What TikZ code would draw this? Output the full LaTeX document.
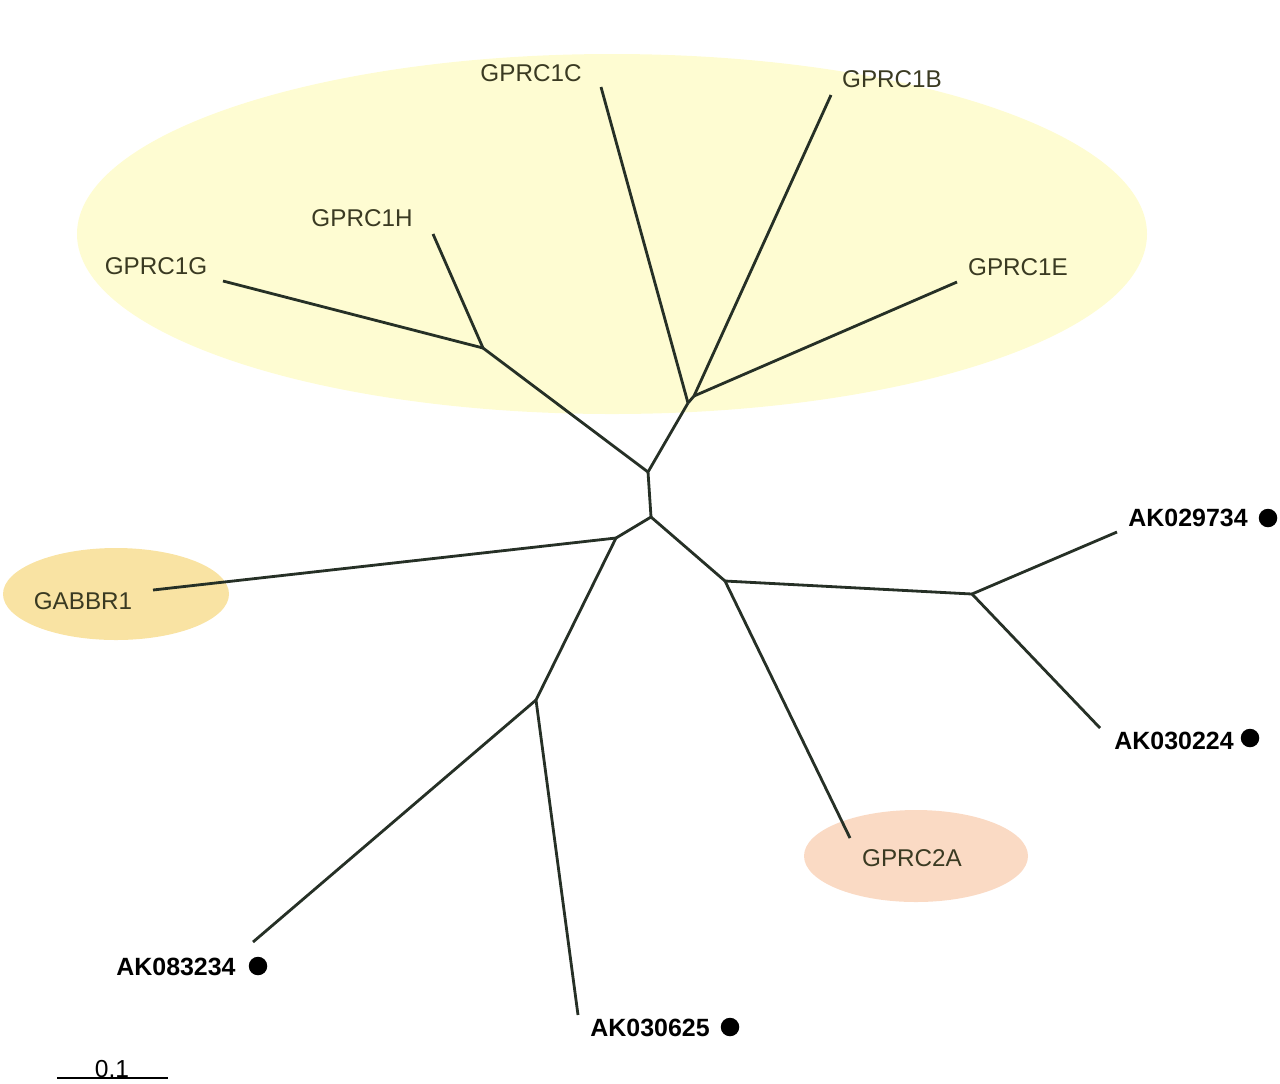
\documentclass[tikz,border=0pt]{standalone}
\usepackage{fontspec}
\setmainfont{Liberation Sans}
\usetikzlibrary{shapes.geometric}

\definecolor{groupyellow}{HTML}{FEFCD2}
\definecolor{gabayellow}{HTML}{F9E3A3}
\definecolor{gprcpink}{HTML}{FADAC4}
\definecolor{branchcol}{HTML}{263026}
\definecolor{labelcol}{HTML}{3A3A22}

\tikzset{
  branch/.style={branchcol, line width=1.6pt},
  gname/.style={text=labelcol, font=\fontsize{13.8}{16}\selectfont, inner sep=0pt},
  akname/.style={text=black, font=\fontsize{14.2}{17}\selectfont\bfseries, inner sep=0pt},
  akdot/.style={circle, fill=black, inner sep=0pt, minimum size=0.37cm},
}

\begin{document}
\begin{tikzpicture}[x=0.02cm, y=-0.02cm]
\useasboundingbox (0,0) rectangle (1280,1083);

% shaded groups
\fill[groupyellow] (612,234) ellipse [x radius=535, y radius=180];
\fill[gabayellow] (116,594) ellipse [x radius=113, y radius=46];
\fill[gprcpink] (916,856) ellipse [x radius=112, y radius=46];

% internal nodes
\coordinate (n1) at (648,472);
\coordinate (n2) at (651,517);
\coordinate (n3) at (483,348);
\coordinate (n4) at (688,403);
\coordinate (n5) at (694,396);
\coordinate (n6) at (616,538);
\coordinate (n7) at (536,700);
\coordinate (n8) at (725,581);
\coordinate (n9) at (972,594);

% tips
\coordinate (t1g) at (223,281);
\coordinate (t1h) at (433,234);
\coordinate (t1c) at (601,87);
\coordinate (t1b) at (831,95);
\coordinate (t1e) at (957,282);
\coordinate (tgab) at (153,590);
\coordinate (t083) at (253,942);
\coordinate (t625) at (578,1015);
\coordinate (t2a) at (850,838);
\coordinate (t734) at (1117,532);
\coordinate (t224) at (1100,728);

% branches
\draw[branch] (n1) -- (n2);
\draw[branch] (n1) -- (n3);
\draw[branch] (n3) -- (t1g);
\draw[branch] (n3) -- (t1h);
\draw[branch] (n1) -- (n4);
\draw[branch] (n4) -- (t1c);
\draw[branch] (n4) -- (n5);
\draw[branch] (n5) -- (t1b);
\draw[branch] (n5) -- (t1e);
\draw[branch] (n2) -- (n6);
\draw[branch] (n6) -- (tgab);
\draw[branch] (n6) -- (n7);
\draw[branch] (n7) -- (t083);
\draw[branch] (n7) -- (t625);
\draw[branch] (n2) -- (n8);
\draw[branch] (n8) -- (t2a);
\draw[branch] (n8) -- (n9);
\draw[branch] (n9) -- (t734);
\draw[branch] (n9) -- (t224);

% labels
\node[gname] (gprc1c) at (531,73) {GPRC1C};
\node[gname] (gprc1b) at (892,79) {GPRC1B};
\node[gname] (gprc1h) at (362,218) {GPRC1H};
\node[gname] (gprc1g) at (156,266) {GPRC1G};
\node[gname] (gprc1e) at (1018,267) {GPRC1E};
\node[gname] (gabbr1) at (83,601) {GABBR1};
\node[gname] (gprc2a) at (912,858) {GPRC2A};

\node[akname] (ak029734) at (1188,518) {AK029734};
\node[akdot] (d029734) at (1268,518) {};
\node[akname] (ak030224) at (1174,741) {AK030224};
\node[akdot] (d030224) at (1250,738) {};
\node[akname] (ak083234) at (176,967) {AK083234};
\node[akdot] (d083234) at (258,966) {};
\node[akname] (ak030625) at (650,1028) {AK030625};
\node[akdot] (d030625) at (730,1027) {};

% scale bar
\coordinate (sbl) at (57,1078);
\coordinate (sbr) at (168,1078);
\draw[black, line width=1.1pt] (sbl) -- (sbr);
\node[font=\fontsize{14}{16}\selectfont, inner sep=0pt] (sbtext) at (112,1069) {0.1};

\end{tikzpicture}
\end{document}
